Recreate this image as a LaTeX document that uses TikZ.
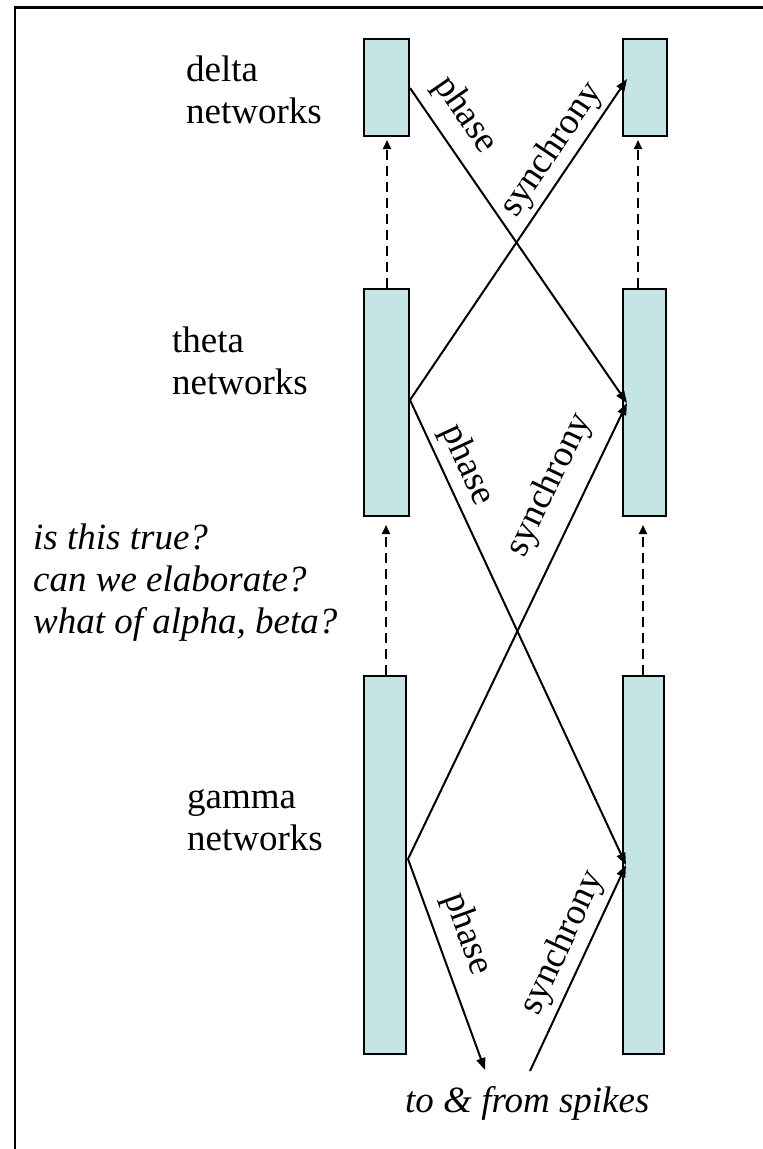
\documentclass[tikz,border=0pt]{standalone}
\usepackage{fontspec}
\setmainfont{Liberation Serif}
\usetikzlibrary{arrows.meta}
\definecolor{netfill}{RGB}{196,228,230}

\begin{document}
\begin{tikzpicture}[x=1pt,y=-1pt,
  netbox/.style={draw=black, line width=2pt, fill=netfill, inner sep=0pt, rectangle},
  link/.style={line width=2pt, -{Triangle[length=12pt,width=9pt]}},
  feed/.style={line width=2pt, dash pattern=on 10pt off 6pt, -{Triangle[length=9pt,width=8pt]}},
  band/.style={font=\fontsize{37}{42}\selectfont, inner sep=0pt, anchor=base west, align=left},
  note/.style={font=\fontsize{37}{42}\selectfont\itshape, inner sep=0pt, anchor=base west, align=left},
  lbl/.style={font=\fontsize{37}{42}\selectfont, inner sep=0pt}]
\useasboundingbox (0,0) rectangle (763,1149);

% frame
\draw[line width=2.5pt] (15,1149) -- (15,7.5) -- (763,7.5);

% network columns
\node[netbox, minimum width=45pt, minimum height=97pt]  (dl) at (386.5,87.5) {};
\node[netbox, minimum width=44pt, minimum height=97pt]  (dr) at (645,87.5) {};
\node[netbox, minimum width=45pt, minimum height=227pt] (tl) at (386.5,402.5) {};
\node[netbox, minimum width=43pt, minimum height=227pt] (tr) at (644.5,402.5) {};
\node[netbox, minimum width=42pt, minimum height=378pt] (gl) at (385,865) {};
\node[netbox, minimum width=41pt, minimum height=378pt] (gr) at (643.5,865) {};

% band names (anchored at the baseline of the last line)
\node[band] (dname) at (186,123) {delta\\networks};
\node[band] (tname) at (172,394) {theta\\networks};
\node[band] (gname) at (187,850) {gamma\\networks};

\node[note] (qs) at (33,633) {is this true?\\can we elaborate?\\what of alpha, beta?};
\node[font=\fontsize{37}{42}\selectfont\itshape, inner sep=0pt, anchor=base west] (spikes) at (405,1112) {to \& from spikes};

% connection points
\coordinate (dout) at (410,88);
\coordinate (tout) at (410,400);
\coordinate (gout) at (408,859);
\coordinate (din) at (627,79);
\coordinate (tin) at (627,403);
\coordinate (gin) at (626,865);
\coordinate (sdown) at (485,1070);
\coordinate (sup) at (530,1071);

% dashed feed arrows
\draw[feed] (387,288) -- (387,140);
\draw[feed] (638,288) -- (638,140);
\draw[feed] (386,675) -- (386,525);
\draw[feed] (643,675) -- (643,525);

% phase / synchrony links
\draw[link] (dout) -- (tin);
\draw[link] (tout) -- (din);
\draw[link] (tout) -- (gin);
\draw[link] (gout) -- (tin);
\draw[link] (gout) -- (sdown);
\draw[link] (sup) -- (gin);

% link labels
\node[lbl, rotate=-55.4] (p1) at (465,115) {phase};
\node[lbl, rotate=55.9]  (s1) at (552,150) {synchrony};
\node[lbl, rotate=-65.1] (p2) at (467,465) {phase};
\node[lbl, rotate=64.3]  (s2) at (550,485) {synchrony};
\node[lbl, rotate=-70.0] (p3) at (467,934) {phase};
\node[lbl, rotate=65.0]  (s3) at (563,943) {synchrony};
\end{tikzpicture}
\end{document}
